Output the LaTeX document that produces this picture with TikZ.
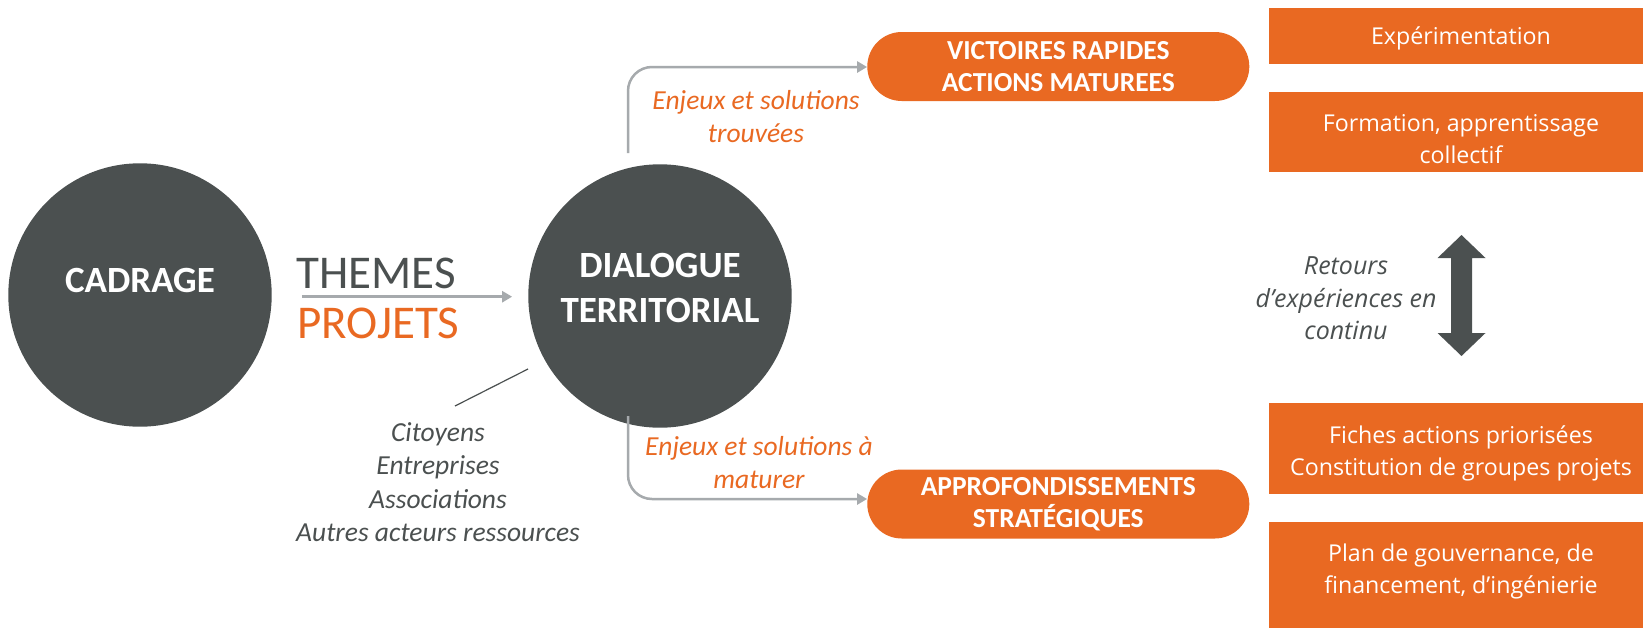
\documentclass[tikz,border=0pt]{standalone}
\usepackage{fontspec}
\setmainfont{Carlito}
\newfontfamily\boxfont{Open Sans}
\usetikzlibrary{arrows.meta,shapes.misc}
\definecolor{dk}{RGB}{75,80,80}
\definecolor{org}{RGB}{233,105,34}
\definecolor{lgr}{RGB}{166,170,173}
\begin{document}
\begin{tikzpicture}[x=1pt,y=-1pt,
  bigc/.style={circle,fill=dk,minimum size=263.4pt,inner sep=0pt},
  ctext/.style={text=white,font=\fontsize{37}{45}\selectfont\bfseries,align=center,inner sep=0pt},
  pill/.style={rounded rectangle,fill=org,text=white,minimum width=382pt,minimum height=69pt,inner sep=0pt,align=center,font=\fontsize{27.5}{32}\selectfont\bfseries},
  garr/.style={draw=lgr,line width=2.5pt,-{Triangle[length=10pt,width=11pt]}},
  lab/.style={text=org,font=\fontsize{27.5}{33}\selectfont\itshape,align=center,inner sep=0pt},
  bx/.style={fill=org,minimum width=374pt,inner sep=0pt,anchor=north west},
  bt/.style={text=white,font=\boxfont\fontsize{23.2}{32}\selectfont,align=center,inner sep=0pt},
  big/.style={inner sep=0pt,anchor=base west,font=\fontsize{47}{50}\selectfont}
]
\useasboundingbox (0,0) rectangle (1643,627);
\fill[white] (0,0) rectangle (1643,627);

% circles
\node[bigc] (cad) at (140,295) {};
\node[ctext] (cadt) at (140,280) {CADRAGE};
\node[bigc] (dia) at (660,296) {};
\node[ctext] (diat) at (660,288) {DIALOGUE\\TERRITORIAL};

% themes / projets
\node[big,text=dk] (th) at (296,288) {THEMES};
\node[big,text=org] (pr) at (297,338) {PROJETS};
\draw[garr] ([xshift=30pt,yshift=-1.7pt]cad.east) -- ([xshift=-16pt,yshift=-0.7pt]dia.west);

% pills
\node[pill] (vic) at (1058.3,66.5) {VICTOIRES RAPIDES\\ACTIONS MATUREES};
\node[pill] (apr) at (1058.3,504) {APPROFONDISSEMENTS\\STRATÉGIQUES};

% connectors
\coordinate (t1) at (628,153);
\coordinate (t2) at (628,416);
\draw[garr,rounded corners=24pt] (t1) |- ([yshift=-0.5pt]vic.west);
\draw[garr,rounded corners=24pt] (t2) |- ([yshift=5pt]apr.west);

\node[lab] (l1) at (756,117) {Enjeux et solutions\\trouvées};
\node[lab] (l2) at (759,463) {Enjeux et solutions à\\maturer};

% actors
\node[lab,text=dk,font=\fontsize{27.5}{33.5}\selectfont\itshape] (cit) at (438,482)
  {Citoyens\\Entreprises\\Associations\\Autres acteurs ressources};
\coordinate (c1) at (528,369);
\coordinate (c2) at (455,406);
\draw[dk,line width=1.2pt] (c1) -- (c2);

% right boxes
\node[bx,minimum height=56pt] (b1) at (1269,8) {};
\node[bx,minimum height=80pt] (b2) at (1269,92) {};
\node[bx,minimum height=91pt] (b3) at (1269,403) {};
\node[bx,minimum height=110pt] (b4) at (1269,522) {};
\node[bt,anchor=base] (b1t) at (1461,44.5) {Expérimentation};
\node[bt] (b2t) at (1461,139) {Formation, apprentissage\\collectif};
\node[bt] (b3t) at (1461,453) {Fiches actions priorisées\\Constitution de groupes projets};
\node[bt] (b4t) at (1461,571) {Plan de gouvernance, de\\financement, d’ingénierie};

% feedback
\node[bt,text=dk,font=\boxfont\itshape\fontsize{25}{32.5}\selectfont] (ret) at (1346,298.4)
  {Retours\\d’expériences en\\continu};
\fill[dk] (1461.5,235) -- (1485.5,258) -- (1472,258) -- (1472,333) -- (1485.5,333)
  -- (1461.5,356) -- (1437.5,333) -- (1451,333) -- (1451,258) -- (1437.5,258) -- cycle;
\end{tikzpicture}
\end{document}
